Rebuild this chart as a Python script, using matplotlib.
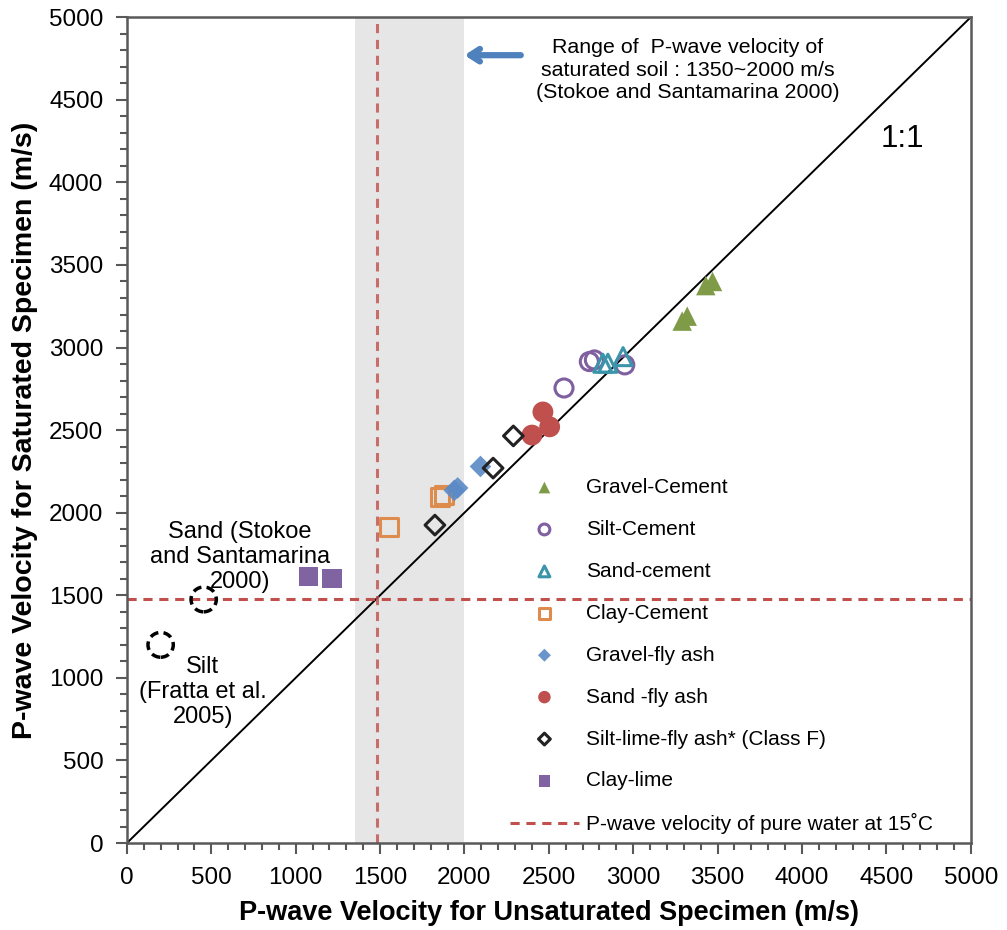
import matplotlib
matplotlib.use("Agg")
import matplotlib.pyplot as plt
from matplotlib.patches import Circle
from matplotlib.ticker import MultipleLocator

plt.rcParams['font.family'] = ['Liberation Sans', 'DejaVu Sans']

# Series: (unsaturated Vp, saturated Vp) in m/s
gravel_cement_x = [3290, 3320, 3430, 3470]
gravel_cement_y = [3160, 3190, 3375, 3400]

silt_cement_x = [2590, 2740, 2770, 2950]
silt_cement_y = [2755, 2915, 2925, 2895]

sand_cement_x = [2820, 2850, 2940]
sand_cement_y = [2905, 2905, 2945]

clay_cement_x = [1555, 1855, 1880]
clay_cement_y = [1915, 2095, 2110]

gravel_flyash_x = [1940, 1960, 2095]
gravel_flyash_y = [2135, 2150, 2280]

sand_flyash_x = [2400, 2465, 2505]
sand_flyash_y = [2470, 2610, 2520]

silt_lime_flyash_x = [1825, 2170, 2290]
silt_lime_flyash_y = [1925, 2270, 2465]

clay_lime_x = [1075, 1215]
clay_lime_y = [1615, 1600]

# Reference values
water_vp = 1480
sat_soil_range = [1350, 2000]
sand_ref = (455, 1475)
silt_ref = (200, 1200)

fig = plt.figure(figsize=(10.07, 9.30), dpi=100)
ax = fig.add_axes([0.126, 0.0935, 0.838, 0.888])

ax.set_xlim(0, 5000)
ax.set_ylim(0, 5000)

# saturated soil band
ax.axvspan(sat_soil_range[0], sat_soil_range[1], color='#e6e6e6', zorder=0, lw=0)

# 1:1 line
ax.plot([0, 5000], [0, 5000], color='black', lw=1.4, zorder=1)

red = '#C0504D'
ax.axvline(water_vp, color=red, lw=2.2, ls=(0, (3, 2.2)), alpha=0.8, zorder=1)
water_line, = ax.plot([0, 5000], [water_vp, water_vp], color=red, lw=2.2,
                      ls=(0, (3, 2.2)), zorder=1,
                      label='P-wave velocity of pure water at 15\u02DAC')

ms = 13
h1 = ax.scatter(gravel_cement_x, gravel_cement_y, marker='^', s=(ms + 1) ** 2,
                color='#7F9B48', edgecolors='none', zorder=3, label='Gravel-Cement')
h2 = ax.scatter(silt_cement_x, silt_cement_y, marker='o', s=ms ** 2,
                facecolors='none', edgecolors='#7F5FA0', linewidths=2.2, zorder=3,
                label='Silt-Cement')
h3 = ax.scatter(sand_cement_x, sand_cement_y, marker='^', s=ms ** 2,
                facecolors='none', edgecolors='#3A95AA', linewidths=2.2, zorder=3,
                label='Sand-cement')
h4 = ax.scatter(clay_cement_x, clay_cement_y, marker='s', s=ms ** 2,
                facecolors='none', edgecolors='#DE8C4E', linewidths=2.2, zorder=3,
                label='Clay-Cement')
h5 = ax.scatter(gravel_flyash_x, gravel_flyash_y, marker='D', s=(ms - 2) ** 2,
                color='#5A8AC6', edgecolors='none', alpha=0.9, zorder=3,
                label='Gravel-fly ash')
h6 = ax.scatter(sand_flyash_x, sand_flyash_y, marker='o', s=(ms + 2) ** 2,
                color='#C0504D', edgecolors='none', zorder=3, label='Sand -fly ash')
h7 = ax.scatter(silt_lime_flyash_x, silt_lime_flyash_y, marker='D', s=(ms - 3) ** 2,
                facecolors='none', edgecolors='#222222', linewidths=2.2, zorder=3,
                label='Silt-lime-fly ash* (Class F)')
h8 = ax.scatter(clay_lime_x, clay_lime_y, marker='s', s=(ms + 1) ** 2,
                color='#8064A2', edgecolors='none', zorder=3, label='Clay-lime')

# literature points shown as dashed circles
for cx, cy in (sand_ref, silt_ref):
    ax.add_patch(Circle((cx, cy), 75, fill=False, ec='black', lw=2.5,
                        ls=(0, (2.5, 1.5)), zorder=3))

ax.text(670, 1731, 'Sand (Stokoe\nand Santamarina\n2000)', ha='center', va='center',
        fontsize=17, linespacing=1.18)
ax.text(450, 914, 'Silt\n(Fratta et al.\n2005)', ha='center', va='center',
        fontsize=17, linespacing=1.18)

ax.text(4597, 4262, '1:1', ha='center', va='center', fontsize=22.5)

ax.text(3323, 4679, 'Range of  P-wave velocity of\nsaturated soil : 1350~2000 m/s\n(Stokoe and Santamarina 2000)',
        ha='center', va='center', fontsize=15.4, linespacing=1.25)
ax.annotate('', xy=(2000, 4770), xytext=(2334, 4770),
            arrowprops=dict(arrowstyle='->,head_length=0.7,head_width=0.45',
                            color='#4F81BD', lw=4.5, shrinkA=0, shrinkB=0,
                            capstyle='round', joinstyle='round'))

ax.xaxis.set_major_locator(MultipleLocator(500))
ax.yaxis.set_major_locator(MultipleLocator(500))
ax.xaxis.set_minor_locator(MultipleLocator(100))
ax.yaxis.set_minor_locator(MultipleLocator(100))
ax.tick_params(which='both', direction='out', color='#595959', width=1.5)
ax.tick_params(which='major', length=8, labelsize=17.5, pad=9)
ax.tick_params(which='minor', length=5)
for sp in ax.spines.values():
    sp.set_color('#595959')
    sp.set_linewidth(1.8)

ax.set_xlabel('P-wave Velocity for Unsaturated Specimen (m/s)', fontsize=19.5,
              fontweight='bold', labelpad=8)
ax.set_ylabel('P-wave Velocity for Saturated Specimen (m/s)', fontsize=20.5,
              fontweight='bold', labelpad=8)

leg = fig.legend(handles=[h1, h2, h3, h4, h5, h6, h7, h8, water_line],
                 loc='upper left', bbox_to_anchor=(0.5065, 0.486),
                 frameon=False, fontsize=15, markerscale=0.6,
                 handlelength=3.3, handletextpad=0.35, labelspacing=1.1,
                 borderpad=0, borderaxespad=0)

fig.savefig('out.png', dpi=100)
